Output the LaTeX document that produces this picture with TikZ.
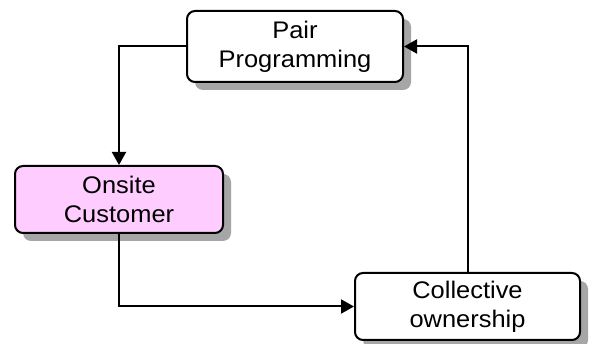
\documentclass[tikz,border=0pt]{standalone}
\usepackage{fontspec}
\setmainfont{Liberation Sans}
\newfontfamily\diagfont[FakeStretch=1.06]{Liberation Sans}
\usetikzlibrary{arrows.meta,shadows}
\begin{document}
\begin{tikzpicture}[x=1pt,y=-1pt,
  box/.style={draw=black, line width=2pt, rounded corners=8pt, fill=white,
    align=center, inner sep=0pt,
    font=\diagfont\fontsize{24pt}{29pt}\selectfont,
    drop shadow={shadow xshift=8pt, shadow yshift=-8pt, fill=black!35, opacity=1}},
  conn/.style={draw=black, line width=2pt, -{Triangle[length=13pt,width=14pt]}}]
\useasboundingbox (0,0) rectangle (594,344);
\fill[white] (0,0) rectangle (594,344);
\node[box, minimum width=216pt, minimum height=71pt] (pp) at (295,46.5) {Pair\\Programming};
\node[box, fill={rgb,255:red,255;green,204;blue,255}, minimum width=208pt, minimum height=67pt] (oc) at (119,199.5) {Onsite\\Customer};
\node[box, minimum width=225pt, minimum height=67pt] (co) at (467.5,306.5) {Collective\\ownership};
\draw[conn] (pp.west) -| (oc.north);
\draw[conn] (oc.south) |- (co.west);
\draw[conn] (co.north) |- (pp.east);
\end{tikzpicture}
\end{document}
